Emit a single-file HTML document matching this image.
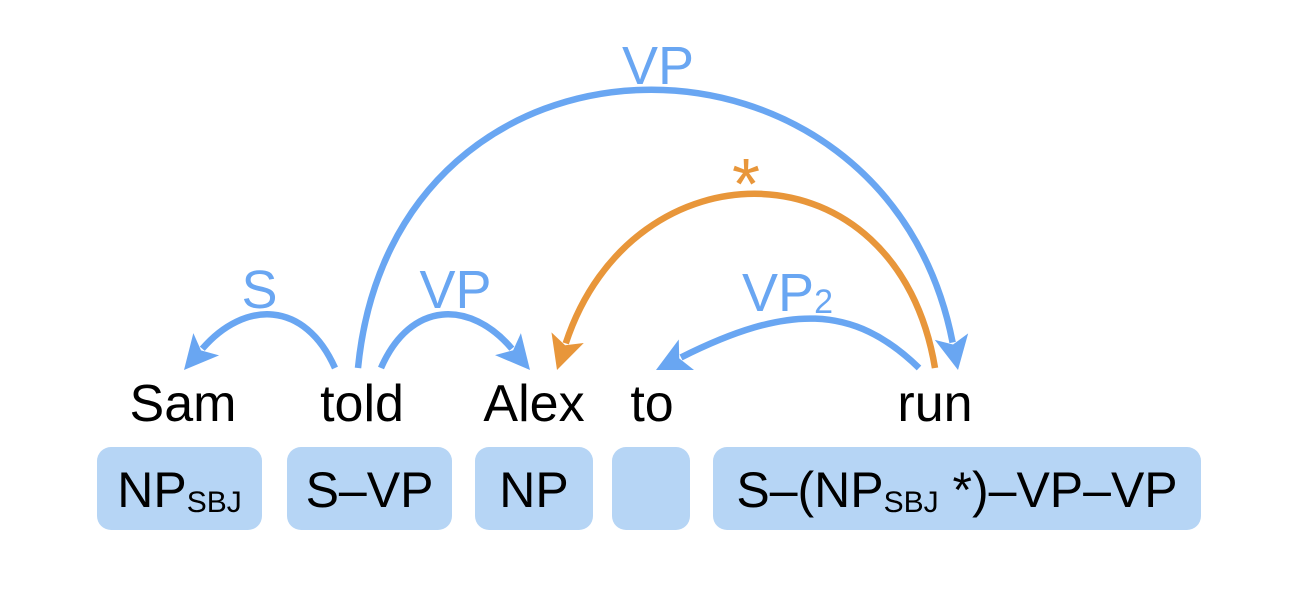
<!DOCTYPE html>
<html>
<head>
<meta charset="utf-8">
<style>
  html,body{margin:0;padding:0;background:#fff;}
  svg{display:block;font-family:"Liberation Sans",sans-serif;}
</style>
</head>
<body>
<svg id="diagram" width="1300" height="593" viewBox="0 0 1300 593" xmlns="http://www.w3.org/2000/svg">
  <g id="boxes"></g>
  <g id="words"></g>
  <g id="arcs"></g>
</svg>
<script>
// Words and their centers
const words = ["Sam", "told", "Alex", "to", "run"];
const wordX = [183, 362, 534, 652, 935];

// Category boxes
const boxLeft = [97, 287, 475, 612, 713];
const boxRight = [262, 452, 593, 690, 1201];
const boxMain = ["NP", "S–VP", "NP", "", "S–(NP"];
const boxSub = ["SBJ", "", "", "", "SBJ"];
const boxTail = ["", "", "", "", " *)–VP–VP"];

// Arcs
const arcStart = [335, 381, 358, 935, 919];
const arcEnd = [184, 530, 958, 557, 656];
const arcPeak = [317, 317, 93, 197, 320];
const arcLabel = ["S", "VP", "VP", "*", "VP"];
const arcLabelSub = ["", "", "", "", "2"];
const arcColor = ["blue", "blue", "blue", "orange", "blue"];
const arcLean = [0.4, 0.4, 0.12, 0.2, 0.5];

const NS = "http://www.w3.org/2000/svg";
const COLORS = {blue: "#69a6f2", orange: "#e8963a"};
const baseY = 370;

const gBoxes = document.getElementById("boxes");
boxLeft.forEach((l, i) => {
  const r = document.createElementNS(NS, "rect");
  r.setAttribute("x", l);
  r.setAttribute("y", 447);
  r.setAttribute("width", boxRight[i] - l);
  r.setAttribute("height", 83);
  r.setAttribute("rx", 14);
  r.setAttribute("fill", "#b6d5f5");
  
  
  gBoxes.appendChild(r);
  if (boxMain[i] || boxSub[i] || boxTail[i]) {
    const t = document.createElementNS(NS, "text");
    t.setAttribute("x", (l + boxRight[i]) / 2);
    t.setAttribute("y", 507);
    t.setAttribute("text-anchor", "middle");
    t.setAttribute("font-size", "50");
    t.setAttribute("fill", "#000");
    
    
    const s1 = document.createElementNS(NS, "tspan");
    s1.textContent = boxMain[i];
    t.appendChild(s1);
    if (boxSub[i]) {
      const s2 = document.createElementNS(NS, "tspan");
      s2.setAttribute("font-size", "30");
      s2.setAttribute("dy", "5");
      s2.textContent = boxSub[i];
      t.appendChild(s2);
    }
    if (boxTail[i]) {
      const s3 = document.createElementNS(NS, "tspan");
      s3.setAttribute("dy", boxSub[i] ? "-5" : "0");
      s3.textContent = boxTail[i];
      t.appendChild(s3);
    }
    gBoxes.appendChild(t);
  }
});

const gWords = document.getElementById("words");
words.forEach((w, i) => {
  const t = document.createElementNS(NS, "text");
  t.setAttribute("x", wordX[i]);
  t.setAttribute("y", 421);
  t.setAttribute("text-anchor", "middle");
  t.setAttribute("font-size", "52");
  t.setAttribute("fill", "#000");
  
  
  t.textContent = w;
  gWords.appendChild(t);
});

const gArcs = document.getElementById("arcs");
arcStart.forEach((x0, i) => {
  const x1 = arcEnd[i];
  const y0 = baseY - 2;
  const cy = y0 - (y0 - arcPeak[i]) * 4 / 3;
  const c1x = x0 - 0.5 * arcLean[i] * (x0 - x1);
  const c2x = x1 + arcLean[i] * (x0 - x1);
  const col = COLORS[arcColor[i]];
  let dx = x1 - c2x, dy = baseY - cy;
  const len = Math.hypot(dx, dy);
  dx /= len; dy /= len;
  const L = 34, W = 17;
  const bx = x1 - L * dx, by = baseY - L * dy;
  const p = document.createElementNS(NS, "path");
  p.setAttribute("d", `M${x0},${y0} C${c1x},${cy} ${c2x},${cy} ${bx + 6*dx},${by + 6*dy}`);
  p.setAttribute("fill", "none");
  p.setAttribute("stroke", col);
  p.setAttribute("stroke-width", "6.5");
  
  
  gArcs.appendChild(p);
  const head = document.createElementNS(NS, "polygon");
  const px = -dy, py = dx;
  head.setAttribute("points", `${x1},${baseY} ${bx + W*px},${by + W*py} ${bx + 8*dx},${by + 8*dy} ${bx - W*px},${by - W*py}`);
  head.setAttribute("fill", col);
  
  
  gArcs.appendChild(head);
  const isStar = arcLabel[i] === "*";
  const t = document.createElementNS(NS, "text");
  t.setAttribute("x", (x0 + x1) / 2);
  t.setAttribute("y", isStar ? arcPeak[i] + 12 : arcPeak[i] - 9);
  t.setAttribute("text-anchor", "middle");
  t.setAttribute("font-size", isStar ? "72" : "54");
  t.setAttribute("fill", col);
  
  
  const s = document.createElementNS(NS, "tspan");
  s.textContent = arcLabel[i];
  t.appendChild(s);
  if (arcLabelSub[i]) {
    const s2 = document.createElementNS(NS, "tspan");
    s2.setAttribute("font-size", "34");
    s2.setAttribute("dy", "2");
    s2.textContent = arcLabelSub[i];
    t.appendChild(s2);
  }
  gArcs.appendChild(t);
});
</script>
</body>
</html>
